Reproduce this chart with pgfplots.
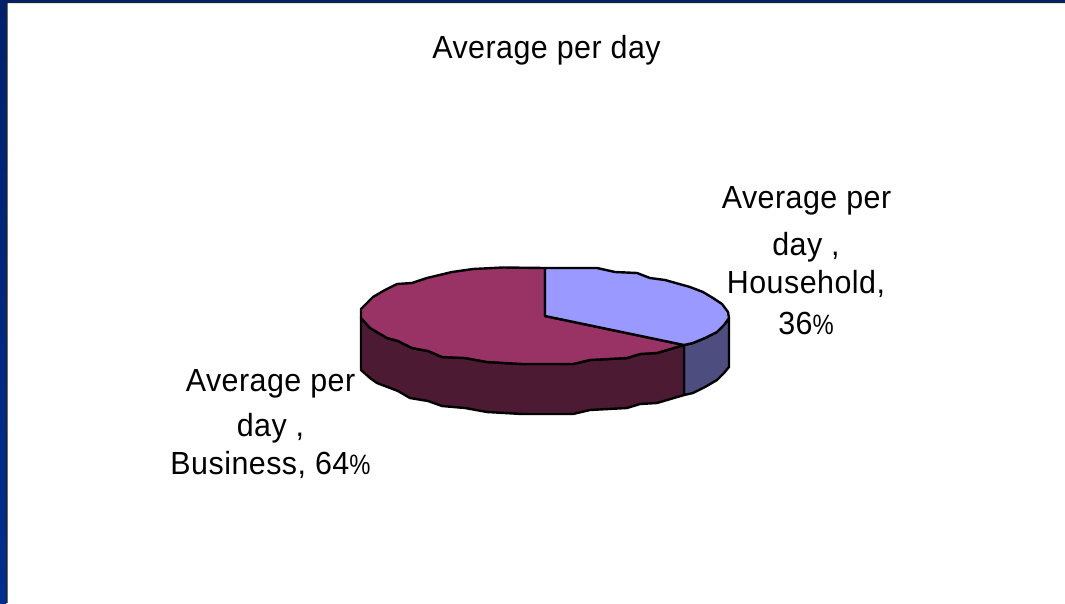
\documentclass[border=0pt]{standalone}
\usepackage{pgfplots}
\pgfplotsset{compat=1.18}
\usepackage{fontspec}
\setmainfont[LetterSpace=1.5,FakeStretch=0.95]{Liberation Sans}
\newfontfamily\pctfont[FakeStretch=0.85]{Liberation Sans}
\definecolor{navy}{HTML}{00206B}
\definecolor{navyb}{HTML}{002F90}
\definecolor{edge}{HTML}{1A2233}
\definecolor{hhtop}{HTML}{9999FF}
\definecolor{hhside}{HTML}{4D4D80}
\definecolor{bztop}{HTML}{993366}
\definecolor{bzside}{HTML}{4D1A33}
\newcommand{\lbl}[1]{{\fontsize{32}{36}\selectfont #1}}
\newcommand{\pct}{{\pctfont\fontsize{28}{30}\selectfont\%}}
\begin{document}
\begin{tikzpicture}
\begin{axis}[
  scale only axis, width=1065pt, height=603pt,
  xmin=0, xmax=1065, ymin=0, ymax=603, y dir=reverse,
  hide axis, clip=false]
% background and frame
\addplot[fill=white, draw=none, forget plot] coordinates {(0,0)(1065,0)(1065,603)(0,603)} -- cycle;
\addplot[top color=navy, bottom color=navyb, draw=none, forget plot] coordinates {(0,0)(6,0)(6,603)(0,603)} -- cycle;
\addplot[fill=navy, draw=none, forget plot] coordinates {(0,0)(1065,0)(1065,2)(0,2)} -- cycle;
\addplot[fill=edge, draw=none, forget plot] coordinates {(6,2)(1065,2)(1065,3)(7.5,3)(7.5,603)(6,603)} -- cycle;
% side walls
\addplot[fill=hhside, draw=black, line width=2.4pt, line join=round, forget plot] coordinates {
 (684,345)(693,343)(705,338)(717,332)(724,325)(729,318)(729,367)(724,373)(717,380)(705,387)(693,393)(684,395)} -- cycle;
\addplot[fill=bzside, draw=black, line width=2.4pt, line join=round, forget plot] coordinates {
 (361,318)(370,328)(387,338)(398,341)(412,348)(428,351)(442,357)(465,358)(487,362)(522,364)(573,364)(590,360)(627,358)(640,354)(657,353)(684,345)
 (684,395)(657,403)(640,404)(627,408)(590,410)(573,414)(522,414)(487,412)(465,408)(442,406)(428,401)(410,398)(398,391)(377,383)(370,378)(361,370)} -- cycle;
% top faces
\addplot[fill=bztop, draw=black, line width=2.4pt, line join=round, forget plot] coordinates {
 (545,316)(684,345)(657,353)(640,354)(627,358)(590,360)(573,364)(522,364)(487,362)(465,358)(442,357)(428,351)(412,348)(398,341)(387,338)(370,328)(361,318)
 (361,309)(373,297)(385,290)(397,284)(412,283)(427,278)(452,272)(473,269)(503,267.5)(545,268)} -- cycle;
\addplot[fill=hhtop, draw=black, line width=2.4pt, line join=round, forget plot] coordinates {
 (545,268)(597,268)(615,272)(637,273)(650,278)(665,280)(690,287)(703,292)(713,298)(722,304)(728,312)(729,318)(724,325)(717,332)(705,338)(693,343)(684,345)(545,316)} -- cycle;
% text
\node at (axis cs:546.5,50) {\lbl{Average per day}};
\node at (axis cs:806.5,201) {\lbl{Average per}};
\node at (axis cs:806,247) {\lbl{day ,}};
\node at (axis cs:806,284) {\lbl{Household,}};
\node at (axis cs:806,323.5) {\lbl{36\pct}};
\node at (axis cs:270.5,384) {\lbl{Average per}};
\node at (axis cs:270.5,428) {\lbl{day ,}};
\node at (axis cs:270.5,465) {\lbl{Business, 64\pct}};
\end{axis}
\end{tikzpicture}
\end{document}
